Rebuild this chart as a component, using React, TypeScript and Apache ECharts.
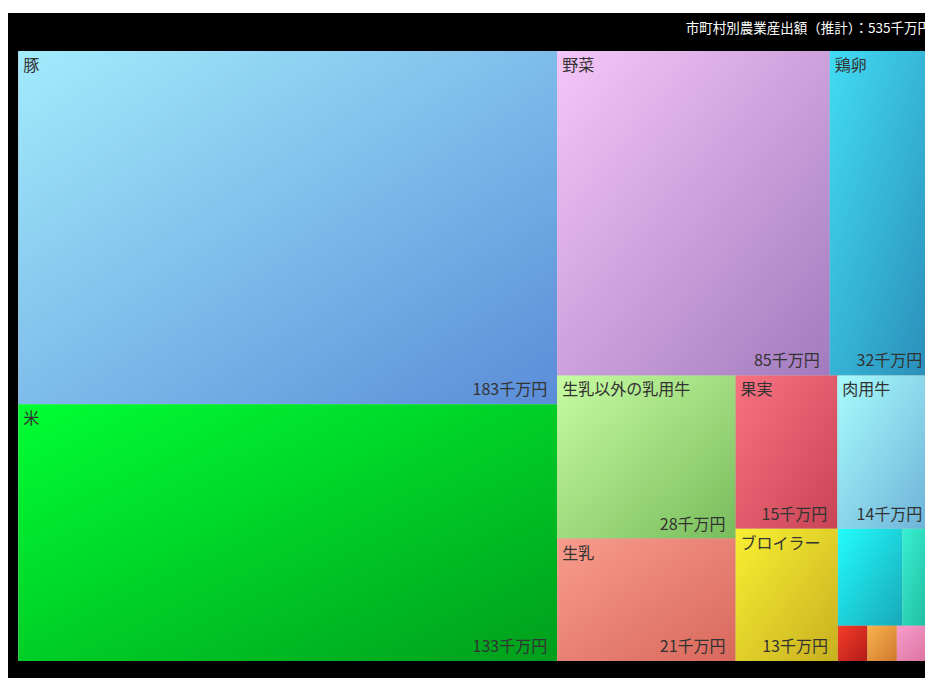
import React, { useEffect, useRef } from 'react';
import * as echarts from 'echarts';

const titleText = '市町村別農業産出額（推計）：535千万円';
const unitLabel = '千万円';

const categories = [
  '豚', '米', '野菜', '鶏卵', '生乳以外の乳用牛', '生乳', '果実', '肉用牛', 'ブロイラー',
  '花き', 'いも類', '豆類', '麦類', '工芸農作物',
];
const values = [183, 133, 85, 32, 28, 21, 15, 14, 13, 6.0, 2.8, 1.0, 1.0, 1.2];
const labelShown = [true, true, true, true, true, true, true, true, true, false, false, false, false, false];
const colorStart = [
  '#a2ecfc', '#00ff33', '#f5c6f8', '#42dcf4', '#c8fca2', '#f89c8c', '#f87282', '#a8fcfc', '#f8f032',
  '#22fcfc', '#38f0d2', '#f83c2a', '#f8b44a', '#f89ccc',
];
const colorEnd = [
  '#5a8cd8', '#009e1c', '#a27bbf', '#2a8cb8', '#78bc5c', '#d8685c', '#c84454', '#6cb0d8', '#c8b020',
  '#18a8b8', '#20b89c', '#b01c18', '#d07830', '#d8709c',
];

const CLEAR = 'rgba(0,0,0,0)';

export default function App() {
  const ref = useRef<HTMLDivElement>(null);
  useEffect(() => {
    document.documentElement.style.overflow = 'hidden';
    const chart = echarts.init(ref.current as HTMLDivElement, null, { renderer: 'svg' });
    const font = "'Noto Sans CJK JP', 'Noto Sans', sans-serif";
    const fillData = categories.map((name, i) => ({
      name,
      value: values[i],
      itemStyle: {
        color: new echarts.graphic.LinearGradient(0, 0, 1, 1, [
          { offset: 0, color: colorStart[i] },
          { offset: 1, color: colorEnd[i] },
        ]),
      },
      label: { show: labelShown[i] },
    }));
    const valueData = categories.map((name, i) => ({
      name,
      value: values[i],
      itemStyle: { color: CLEAR, borderColor: CLEAR },
      label: { show: labelShown[i] },
    }));
    const common: any = {
      type: 'treemap',
      left: 10.3,
      top: 38,
      width: 914,
      height: 610,
      sort: false,
      roam: false,
      nodeClick: false,
      silent: true,
      breadcrumb: { show: false },
    };
    chart.setOption({
      animation: false,
      backgroundColor: '#000',
      title: {
        text: titleText,
        right: 12,
        top: 2,
        textStyle: { color: '#fff', fontSize: 13.5, fontWeight: 'normal', fontFamily: font },
      },
      series: [
        {
          ...common,
          data: fillData,
          levels: [{ itemStyle: { borderWidth: 0, gapWidth: 0, borderColor: '#000' } }],
          label: {
            show: true,
            position: 'insideTopLeft',
            color: '#333',
            fontSize: 16,
            fontFamily: font,
            padding: 5,
            distance: 0,
            formatter: '{b}',
          },
        },
        {
          ...common,
          data: valueData,
          levels: [{ color: [CLEAR], itemStyle: { borderWidth: 0, gapWidth: 0, borderColor: CLEAR } }],
          label: {
            show: true,
            position: 'insideBottomRight',
            color: '#333',
            fontSize: 16,
            fontFamily: font,
            padding: [0, 5, 3, 0],
            distance: 5,
            formatter: (p: any) => `${p.value}${unitLabel}`,
          },
        },
      ],
    });
    return () => chart.dispose();
  }, []);
  return (
    <div
      ref={ref}
      style={{ position: 'fixed', left: 8, top: 13, width: 940, height: 665 }}
    />
  );
}
